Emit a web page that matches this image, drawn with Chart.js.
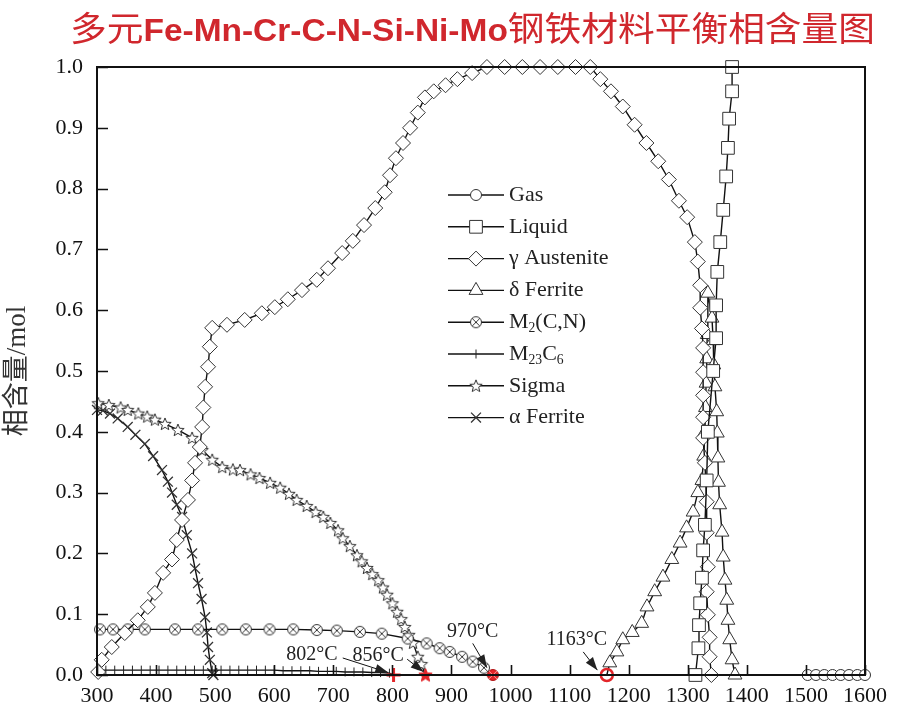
<!DOCTYPE html>
<html>
<head>
<meta charset="utf-8">
<script src="https://cdn.jsdelivr.net/npm/chart.js@4.4.1/dist/chart.umd.min.js"></script>
<style>
  html, body { margin: 0; padding: 0; background: #fff; }
  #wrap { width: 900px; height: 714px; }
</style>
</head>
<body>
<div id="wrap"><canvas id="c" width="900" height="714"></canvas></div>
<script>
// temperatures (°C) and phase amounts (mol)
const gasT = [1400, 1503, 1517, 1531, 1545, 1559, 1573, 1587, 1600];
const gasV = [0, 0, 0, 0, 0, 0, 0, 0, 0];

const liquidT = [1313, 1318, 1319, 1321, 1324, 1326, 1329, 1332, 1334, 1343, 1348, 1348, 1350, 1355, 1360, 1365, 1368, 1370, 1375, 1375];
const liquidV = [0, 0.044, 0.082, 0.118, 0.16, 0.205, 0.247, 0.32, 0.40, 0.50, 0.554, 0.608, 0.663, 0.712, 0.765, 0.82, 0.867, 0.915, 0.96, 1.0];

const austeniteT = [302, 308, 325, 347, 369, 386, 398, 412, 427, 435, 444, 454, 461, 466, 474, 478, 480, 483, 488, 491, 495,
  520, 550, 579, 601, 623, 647, 672, 691, 715, 733, 752, 771, 787, 796, 806, 818, 830, 843, 855, 870, 890, 910, 935,
  960, 990, 1020, 1050, 1080, 1110, 1135, 1152, 1170, 1190, 1210, 1230, 1250, 1268, 1285, 1299, 1312, 1317, 1321, 1321,
  1324, 1326, 1326, 1326, 1326, 1326, 1329, 1332, 1332, 1334, 1332, 1334, 1337, 1337, 1340];
const austeniteV = [0.005, 0.025, 0.046, 0.069, 0.09, 0.112, 0.135, 0.168, 0.19, 0.222, 0.255, 0.288, 0.32, 0.349, 0.375, 0.408, 0.44, 0.474, 0.507, 0.54, 0.571,
  0.576, 0.584, 0.595, 0.605, 0.618, 0.633, 0.65, 0.669, 0.694, 0.714, 0.74, 0.768, 0.794, 0.822, 0.85, 0.875, 0.9, 0.925, 0.95, 0.96, 0.97, 0.98, 0.99,
  1.0, 1.0, 1.0, 1.0, 1.0, 1.0, 1.0, 0.98, 0.96, 0.935, 0.905, 0.875, 0.845, 0.815, 0.78, 0.753, 0.712, 0.68, 0.641, 0.604,
  0.57, 0.538, 0.498, 0.46, 0.424, 0.39, 0.349, 0.285, 0.234, 0.178, 0.137, 0.099, 0.062, 0.03, 0];

const deltaT = [1163, 1168, 1180, 1190, 1206, 1222, 1231, 1244, 1258, 1273, 1287, 1298, 1309, 1317, 1324, 1327, 1329, 1330, 1331, 1332, 1333, 1334,
  1341, 1343, 1344, 1346, 1349, 1350, 1351, 1352, 1354, 1358, 1360, 1363, 1366, 1368, 1371, 1375, 1380];
const deltaV = [0, 0.02, 0.038, 0.058, 0.07, 0.085, 0.112, 0.137, 0.161, 0.19, 0.217, 0.242, 0.268, 0.30, 0.32, 0.36, 0.40, 0.44, 0.48, 0.52, 0.56, 0.628,
  0.587, 0.55, 0.51, 0.474, 0.433, 0.398, 0.357, 0.317, 0.28, 0.235, 0.194, 0.156, 0.123, 0.09, 0.058, 0.025, 0];

const m2cnT = [305, 327, 352, 381, 432, 471, 512, 552, 592, 632, 672, 706, 745, 782, 826, 858, 880, 897, 918, 936, 955, 970];
const m2cnV = [0.075, 0.075, 0.075, 0.075, 0.075, 0.075, 0.075, 0.075, 0.075, 0.075, 0.074, 0.073, 0.071, 0.068, 0.06, 0.052, 0.044, 0.038, 0.03, 0.022, 0.012, 0];

const m23c6T = [300, 315, 330, 345, 360, 375, 390, 405, 420, 435, 450, 465, 480, 495, 510, 525, 540, 555, 570, 585, 600,
  615, 630, 645, 660, 675, 690, 705, 720, 735, 750, 765, 780, 795, 802];
const m23c6V = [0.008, 0.008, 0.008, 0.008, 0.008, 0.008, 0.008, 0.008, 0.008, 0.008, 0.008, 0.008, 0.008, 0.008, 0.008, 0.008, 0.008, 0.008, 0.008, 0.008, 0.008,
  0.007, 0.007, 0.007, 0.007, 0.006, 0.006, 0.006, 0.005, 0.005, 0.005, 0.004, 0.004, 0.003, 0];

const sigmaT = [302, 320, 340, 352, 370, 385, 398, 415, 437, 461, 478, 495, 512, 530, 542, 560, 575, 593, 610, 625, 638, 655, 670, 683, 695,
  708, 716, 728, 740, 748, 757, 766, 776, 784, 791, 800, 808, 815, 821, 828, 835, 843, 849, 856];
const sigmaV = [0.447, 0.444, 0.44, 0.436, 0.43, 0.425, 0.42, 0.413, 0.403, 0.39, 0.37, 0.354, 0.342, 0.338, 0.337, 0.33, 0.324, 0.316, 0.308, 0.298, 0.288, 0.278, 0.268, 0.26, 0.25,
  0.238, 0.225, 0.212, 0.197, 0.187, 0.176, 0.166, 0.156, 0.144, 0.132, 0.118, 0.104, 0.092, 0.079, 0.066, 0.053, 0.03, 0.018, 0];

const alphaT = [300, 310, 322, 335, 352, 365, 381, 395, 410, 420, 427, 435, 444, 452, 461, 466, 471, 477, 483, 486, 488, 491, 495, 497];
const alphaV = [0.436, 0.435, 0.43, 0.422, 0.408, 0.395, 0.38, 0.36, 0.337, 0.318, 0.30, 0.28, 0.26, 0.23, 0.20, 0.175, 0.151, 0.125, 0.095, 0.07, 0.046, 0.025, 0.003, 0];

// critical temperatures where phases vanish
const criticalT = [802, 856, 970, 1163];
const criticalV = [0, 0, 0, 0];
const criticalLabels = ['802°C', '856°C', '970°C', '1163°C'];

const titleParts = ['多元', 'Fe-Mn-Cr-C-N-Si-Ni-Mo', '钢铁材料平衡相含量图'];
const yAxisTitle = '相含量/mol';

// label text position and arrow (data units) for each critical point
const calloutSpots = [
  { tx: 664, ty: 0.033, ax: 716, ay: 0.028, bx: 793, by: 0.004 },
  { tx: 776, ty: 0.031, ax: 825, ay: 0.026, bx: 853, by: 0.005 },
  { tx: 936, ty: 0.071, ax: 936, ay: 0.052, bx: 960, by: 0.012 },
  { tx: 1112, ty: 0.058, ax: 1123, ay: 0.038, bx: 1147, by: 0.008 }
];

const SERIF = '"Liberation Serif", "DejaVu Serif", serif';
const RED = '#e3262a';

function pts(T, V) {
  return T.map((t, i) => ({ x: t, y: V[i] }));
}

function marker(size, draw) {
  const c = document.createElement('canvas');
  c.width = size;
  c.height = size;
  draw(c.getContext('2d'), size / 2);
  return c;
}

function circleX(fill, stroke, cross) {
  return marker(14, (g, m) => {
    g.beginPath();
    g.arc(m, m, 5.5, 0, Math.PI * 2);
    g.fillStyle = fill;
    g.fill();
    g.strokeStyle = stroke;
    g.lineWidth = 1;
    g.stroke();
    g.strokeStyle = cross;
    g.beginPath();
    g.moveTo(m - 3.9, m - 3.9); g.lineTo(m + 3.9, m + 3.9);
    g.moveTo(m + 3.9, m - 3.9); g.lineTo(m - 3.9, m + 3.9);
    g.stroke();
  });
}

function star(fill, stroke, ro, ri) {
  const s = Math.ceil(ro * 2 + 3);
  return marker(s, (g, m) => {
    g.beginPath();
    for (let i = 0; i < 10; i++) {
      const r = i % 2 ? ri : ro;
      const a = -Math.PI / 2 + i * Math.PI / 5;
      const px = m + r * Math.cos(a), py = m + r * Math.sin(a) + 0.5;
      if (i) g.lineTo(px, py); else g.moveTo(px, py);
    }
    g.closePath();
    g.fillStyle = fill;
    g.fill();
    g.strokeStyle = stroke;
    g.lineWidth = 1;
    g.stroke();
  });
}

const m2Marker = circleX('#fff', '#333', '#333');
const sigmaMarker = star('#fff', '#333', 6.5, 2.8);
const redM2 = circleX(RED, '#b01010', '#ff9a9a');
const redStar = star(RED, RED, 7, 3.2);

function series(label, T, V, style, radius, extra) {
  return Object.assign({
    label: label,
    data: pts(T, V),
    borderColor: '#111',
    borderWidth: 1.4,
    pointStyle: style,
    pointRadius: radius,
    pointHoverRadius: radius,
    pointBackgroundColor: '#fff',
    pointBorderColor: '#333',
    pointBorderWidth: 1,
    tension: 0,
    clip: false,
    fill: false
  }, extra || {});
}

const datasets = [
  series('Gas', gasT, gasV, 'circle', c => (c.dataIndex === 0 ? 0 : 5.5)),
  series('Liquid', liquidT, liquidV, 'rect', 9),
  series('γ Austenite', austeniteT, austeniteV, 'rectRot', 7.5),
  series('δ Ferrite', deltaT, deltaV, 'triangle', 8, { pointRadius: c => (c.dataIndex === 0 ? 0 : 8) }),
  series('M_{2}(C,N)', m2cnT, m2cnV, m2Marker, c => (c.dataIndex === m2cnT.length - 1 ? 0 : 6)),
  series('M_{23}C_{6}', m23c6T, m23c6V, 'line', c => (c.dataIndex === m23c6T.length - 1 ? 0 : 4.5), { pointRotation: 90, pointBorderColor: '#222' }),
  series('Sigma', sigmaT, sigmaV, sigmaMarker, c => (c.dataIndex === sigmaT.length - 1 ? 0 : 6)),
  series('α Ferrite', alphaT, alphaV, 'crossRot', 7, { pointBorderColor: '#333', pointBorderWidth: 1.3 }),
  {
    label: '_critical',
    data: pts(criticalT, criticalV),
    showLine: false,
    clip: false,
    pointStyle: ['cross', redStar, redM2, 'circle'],
    pointRadius: [7, 7, 7, 6],
    pointHoverRadius: [7, 7, 7, 6],
    pointBackgroundColor: ['rgba(0,0,0,0)', RED, RED, 'rgba(0,0,0,0)'],
    pointBorderColor: RED,
    pointBorderWidth: [3, 1, 1, 2.5],
    order: -1
  }
];

function drawRich(ctx, text, x, y, size) {
  // "_{..}" marks a subscript
  const parts = text.split(/(_\{[^}]*\})/).filter(Boolean);
  let cx = x;
  parts.forEach(p => {
    if (p.startsWith('_{')) {
      ctx.font = (size * 0.62) + 'px ' + SERIF;
      const s = p.slice(2, -1);
      ctx.fillText(s, cx, y + size * 0.28);
      cx += ctx.measureText(s).width;
    } else {
      ctx.font = size + 'px ' + SERIF;
      ctx.fillText(p, cx, y);
      cx += ctx.measureText(p).width;
    }
  });
}

const decorPlugin = {
  id: 'decor',
  afterDraw(chart) {
    const ctx = chart.ctx;
    const a = chart.chartArea;
    const xs = chart.scales.x, ys = chart.scales.y;
    ctx.save();

    // frame and inward tick marks
    ctx.strokeStyle = '#111';
    ctx.lineWidth = 2;
    ctx.strokeRect(a.left, a.top, a.right - a.left, a.bottom - a.top);
    ctx.lineWidth = 1.6;
    ctx.beginPath();
    xs.ticks.forEach(t => {
      const px = Math.round(xs.getPixelForValue(t.value)) + 0.5;
      ctx.moveTo(px, a.bottom);
      ctx.lineTo(px, a.bottom - 10);
    });
    ys.ticks.forEach(t => {
      const py = Math.round(ys.getPixelForValue(t.value)) + 0.5;
      ctx.moveTo(a.left, py);
      ctx.lineTo(a.left + 11, py);
    });
    ctx.stroke();

    // critical temperature callouts
    ctx.fillStyle = '#222';
    ctx.strokeStyle = '#111';
    ctx.lineWidth = 1;
    ctx.textAlign = 'center';
    ctx.textBaseline = 'middle';
    ctx.font = '20px ' + SERIF;
    calloutSpots.forEach((s, i) => {
      const tx = xs.getPixelForValue(s.tx), ty = ys.getPixelForValue(s.ty);
      ctx.fillText(criticalLabels[i], tx, ty);
      const x1 = xs.getPixelForValue(s.ax), y1 = ys.getPixelForValue(s.ay);
      const x2 = xs.getPixelForValue(s.bx), y2 = ys.getPixelForValue(s.by);
      ctx.beginPath();
      ctx.moveTo(x1, y1);
      ctx.lineTo(x2, y2);
      ctx.stroke();
      const ang = Math.atan2(y2 - y1, x2 - x1);
      ctx.beginPath();
      ctx.moveTo(x2, y2);
      ctx.lineTo(x2 - 13 * Math.cos(ang) + 4.5 * Math.sin(ang), y2 - 13 * Math.sin(ang) - 4.5 * Math.cos(ang));
      ctx.lineTo(x2 - 13 * Math.cos(ang) - 4.5 * Math.sin(ang), y2 - 13 * Math.sin(ang) + 4.5 * Math.cos(ang));
      ctx.closePath();
      ctx.fill();
    });

    // legend inside the plot
    const lx = 448, ly = 195, step = 31.8;
    chart.data.datasets.forEach((ds, i) => {
      if (ds.label.startsWith('_')) return;
      const y = ly + i * step;
      ctx.strokeStyle = '#111';
      ctx.lineWidth = 1.4;
      ctx.beginPath();
      ctx.moveTo(lx, y);
      ctx.lineTo(lx + 56, y);
      ctx.stroke();
      const r = typeof ds.pointRadius === 'function' ? ds.pointRadius({ dataIndex: 1 }) : ds.pointRadius;
      ctx.fillStyle = ds.pointBackgroundColor;
      ctx.strokeStyle = ds.pointBorderColor;
      ctx.lineWidth = ds.pointBorderWidth;
      Chart.helpers.drawPoint(ctx, {
        pointStyle: ds.pointStyle,
        radius: r,
        rotation: ds.pointRotation || 0,
        borderWidth: ds.pointBorderWidth
      }, lx + 28, y);
      ctx.fillStyle = '#222';
      ctx.textAlign = 'left';
      ctx.textBaseline = 'middle';
      drawRich(ctx, ds.label, lx + 61, y, 22);
    });

    // title, mixed fonts
    const fonts = ['34px "Noto Sans CJK SC"', 'bold 31px "Liberation Sans"', '34px "Noto Sans CJK SC"'];
    let total = 0;
    const widths = titleParts.map((p, i) => {
      ctx.font = fonts[i];
      const w = ctx.measureText(p).width;
      total += w;
      return w;
    });
    const span = 805, left = 70;
    ctx.translate(left, 0);
    ctx.scale(span / total, 1);
    ctx.fillStyle = '#d0272d';
    ctx.textAlign = 'left';
    ctx.textBaseline = 'alphabetic';
    let cx = 0;
    titleParts.forEach((p, i) => {
      ctx.font = fonts[i];
      ctx.fillText(p, cx, 41);
      cx += widths[i];
    });
    ctx.restore();
  }
};

new Chart(document.getElementById('c'), {
  type: 'line',
  data: { datasets: datasets },
  options: {
    responsive: false,
    animation: false,
    events: [],
    layout: { padding: { top: 67, right: 35, left: 0, bottom: 0 } },
    plugins: {
      legend: { display: false },
      tooltip: { enabled: false },
      title: { display: false }
    },
    scales: {
      x: {
        type: 'linear',
        min: 300,
        max: 1600,
        grid: { display: false, drawTicks: false },
        border: { display: false },
        ticks: {
          stepSize: 100,
          autoSkip: false,
          maxRotation: 0,
          padding: 8,
          color: '#111',
          font: { family: SERIF, size: 22 },
          callback: v => String(v)
        },
        afterFit: s => { s.height = 39; }
      },
      y: {
        min: 0,
        max: 1,
        grid: { display: false, drawTicks: false },
        border: { display: false },
        ticks: {
          stepSize: 0.1,
          padding: 14,
          color: '#111',
          font: { family: SERIF, size: 22 },
          callback: v => v.toFixed(1)
        },
        title: {
          display: true,
          text: yAxisTitle,
          color: '#333',
          padding: { top: 2, bottom: 2 },
          font: { family: SERIF + ', "Noto Sans CJK SC"', size: 27 }
        },
        afterFit: s => { s.width = 97; }
      }
    }
  },
  plugins: [decorPlugin]
});
</script>
</body>
</html>
